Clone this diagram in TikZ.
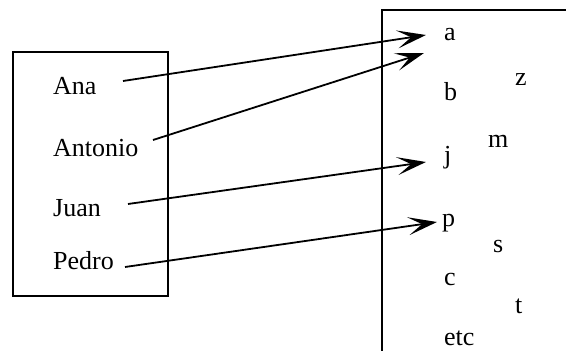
\documentclass[tikz,border=0pt]{standalone}
\usepackage{fontspec}
\setmainfont{Liberation Serif}
\usetikzlibrary{arrows.meta}
\tikzset{
  lbl/.style={anchor=base west, inner sep=0pt, font=\fontsize{26}{30}\selectfont},
  setbox/.style={line width=1.4pt},
  mapto/.style={line width=1.8pt, -{Stealth[length=29pt, width=18pt, inset=14pt]}},
}
\begin{document}
\begin{tikzpicture}[x=1pt, y=-1pt]
  \useasboundingbox[fill=white] (0,0) rectangle (566,351);
  \clip (0,0) rectangle (566,351);

  % domain set
  \draw[setbox] (13,52) rectangle (168,296);
  \node[lbl] (ana)     at (53,94)  {Ana};
  \node[lbl] (antonio) at (53,156) {Antonio};
  \node[lbl] (juan)    at (53,216) {Juan};
  \node[lbl] (pedro)   at (53,269) {Pedro};

  % codomain set (runs past the frame)
  \draw[setbox] (580,10) -- (382,10) -- (382,370);
  \node[lbl] (a)   at (444,40)  {a};
  \node[lbl] (b)   at (444,100) {b};
  \node[lbl] (z)   at (515,85)  {z};
  \node[lbl] (m)   at (488,147) {m};
  \node[lbl] (j)   at (444,163) {j};
  \node[lbl] (p)   at (442,226) {p};
  \node[lbl] (s)   at (493,252) {s};
  \node[lbl] (c)   at (444,285) {c};
  \node[lbl] (t)   at (515,313) {t};
  \node[lbl] (etc) at (444,345) {etc};

  % arrow end points
  \coordinate (ana-out)     at (123,81);
  \coordinate (antonio-out) at (153,140);
  \coordinate (juan-out)    at (128,204);
  \coordinate (pedro-out)   at (125,267);
  \coordinate (a-in)   at (426,35);
  \coordinate (a-in2)  at (424,53);
  \coordinate (j-in)   at (426,162);
  \coordinate (p-in)   at (437,222);

  \draw[mapto] (ana-out) -- (a-in);
  \draw[mapto] (antonio-out) -- (a-in2);
  \draw[mapto] (juan-out) -- (j-in);
  \draw[mapto] (pedro-out) -- (p-in);
\end{tikzpicture}
\end{document}
